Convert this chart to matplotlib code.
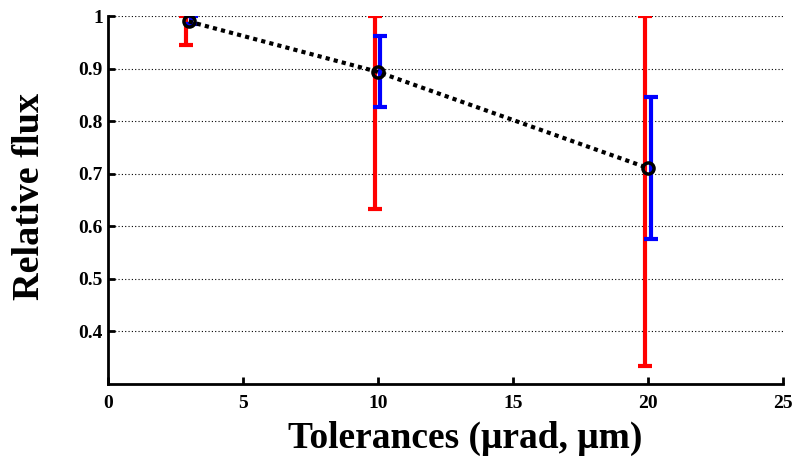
import matplotlib
matplotlib.use('Agg')
from matplotlib import pyplot as plt

tolerancias = [3, 10, 20]
fluxo = [0.99, 0.894, 0.711]

# barras vermelhas (intervalo largo)
red_low = [0.945, 0.632, 0.334]
red_high = [1.0, 1.0, 1.0]

# barras azuis (intervalo estreito)
blue_low = [0.985, 0.827, 0.575]
blue_high = [1.0, 0.963, 0.847]

plt.rcParams['font.family'] = ['Liberation Serif', 'DejaVu Serif']
plt.rcParams['font.weight'] = 'bold'

fig = plt.figure(figsize=(7.98, 4.63), dpi=100)
ax = fig.add_axes([0.135, 0.171, 0.846, 0.794])

x_red = [t - 0.1 for t in tolerancias]
x_blue = [t + 0.1 for t in tolerancias]

ax.errorbar(x_red, [(a + b) / 2 for a, b in zip(red_low, red_high)],
            yerr=[(b - a) / 2 for a, b in zip(red_low, red_high)],
            fmt='none', ecolor='red', elinewidth=3, capsize=5, capthick=3)
ax.errorbar(x_blue, [(a + b) / 2 for a, b in zip(blue_low, blue_high)],
            yerr=[(b - a) / 2 for a, b in zip(blue_low, blue_high)],
            fmt='none', ecolor='blue', elinewidth=3, capsize=5, capthick=3)

ax.plot(tolerancias, fluxo, color='black', linestyle=(0, (1, 1)), linewidth=3,
        marker='o', markersize=8, markerfacecolor='none', markeredgewidth=2.5,
        zorder=5)

ax.set_xlim(0, 25)
ax.set_ylim(0.3, 1.0)
ax.set_xticks([0, 5, 10, 15, 20, 25])
ax.set_yticks([0.4, 0.5, 0.6, 0.7, 0.8, 0.9, 1.0])
ax.set_yticklabels(['0.4', '0.5', '0.6', '0.7', '0.8', '0.9', '1'])
ax.yaxis.grid(True, linestyle=(0, (1, 2)), color='black', linewidth=0.8)

ax.spines['top'].set_visible(False)
ax.spines['right'].set_visible(False)
ax.spines['left'].set_linewidth(2)
ax.spines['bottom'].set_linewidth(2)
ax.tick_params(axis='both', labelsize=14, width=2, length=5, direction='in')
ax.tick_params(axis='x', pad=8)

ax.set_xlabel('Tolerances (μrad, μm)', fontsize=27, fontweight='bold')
ax.set_ylabel('Relative flux', fontsize=27.5, fontweight='bold')
ax.xaxis.set_label_coords(0.529, -0.102)
ax.yaxis.set_label_coords(-0.09, 0.51)

fig.savefig('out.png', dpi=100)
